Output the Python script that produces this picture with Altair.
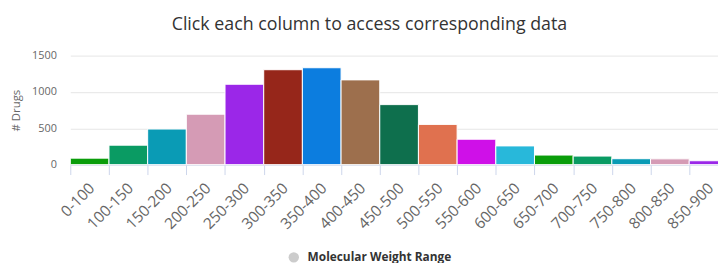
import altair as alt
import pandas as pd

ranges = ["0-100", "100-150", "150-200", "200-250", "250-300", "300-350",
          "350-400", "400-450", "450-500", "500-550", "550-600", "600-650",
          "650-700", "700-750", "750-800", "800-850", "850-900"]
counts = [90, 268, 490, 694, 1106, 1306, 1333, 1166, 826, 554, 350, 258,
          132, 118, 82, 80, 54]
colors = ["#0a9d0a", "#0a9b63", "#0a9bb5", "#d59bb5", "#9b27e8", "#96261a",
          "#0c7ddf", "#9d6f4d", "#0e6f4d", "#e0714f", "#cf10e8", "#28b8da",
          "#0a9d0a", "#0a9b63", "#0a9bb5", "#d59bb5", "#9b27e8"]
series_name = "Molecular Weight Range"

df = pd.DataFrame({"range": ranges, "count": counts,
                   "series": [series_name] * len(ranges)})

FONT = "Open Sans"

x = alt.X("range:N", sort=ranges, title=None,
          scale=alt.Scale(range=[0, 665], paddingInner=0, paddingOuter=0),
          axis=alt.Axis(labelAngle=-45, labelFontSize=15.5, labelColor="#666666",
                        labelFont=FONT, tickBand="extent", tickSize=10,
                        tickColor="#ccd6eb", domainColor="#ccd6eb",
                        labelPadding=6, labelOffset=-3, grid=False,
                        labelOverlap=False))
y = alt.Y("count:Q", title="# Drugs",
          scale=alt.Scale(domain=[0, 1500], nice=False),
          axis=alt.Axis(values=[0, 500, 1000, 1500], format="d", domain=False,
                        ticks=False, labelOverlap=False,
                        gridColor="#e6e6e6", labelFontSize=11,
                        labelColor="#666666", labelFont=FONT, labelPadding=14,
                        titleFontSize=11.5, titleColor="#666666",
                        titleFont=FONT, titleFontWeight="normal",
                        titlePadding=10))

bars = alt.Chart(df).mark_bar(stroke="white", strokeWidth=1).encode(
    x=x, y=y,
    color=alt.Color("range:N", sort=ranges,
                    scale=alt.Scale(domain=ranges, range=colors), legend=None),
)

legend_layer = alt.Chart(df).mark_point(size=0, filled=True, color="#cccccc").encode(
    shape=alt.Shape("series:N", legend=alt.Legend(
        orient="none", legendX=220, legendY=198, title=None, padding=0,
        symbolType="circle", symbolFillColor="#cccccc",
        symbolStrokeColor="#cccccc", symbolStrokeWidth=0, symbolOpacity=1,
        symbolSize=110, labelFontSize=12, labelFontWeight="bold",
        labelColor="#333333", labelFont=FONT, labelOffset=8)),
)

chart = alt.layer(bars, legend_layer).properties(
    width=655, height=110.3,
    title=alt.TitleParams("Click each column to access corresponding data",
                          fontSize=18, font=FONT, fontWeight="normal",
                          color="#333333", anchor="middle", dx=-25,
                          offset=16),
    autosize=alt.AutoSizeParams(type="none"),
    padding={"left": 63, "top": 46.7, "right": 0, "bottom": 98},
).configure_view(stroke=None)

chart.save("out.html", embed_options={"renderer": "svg", "actions": False})
